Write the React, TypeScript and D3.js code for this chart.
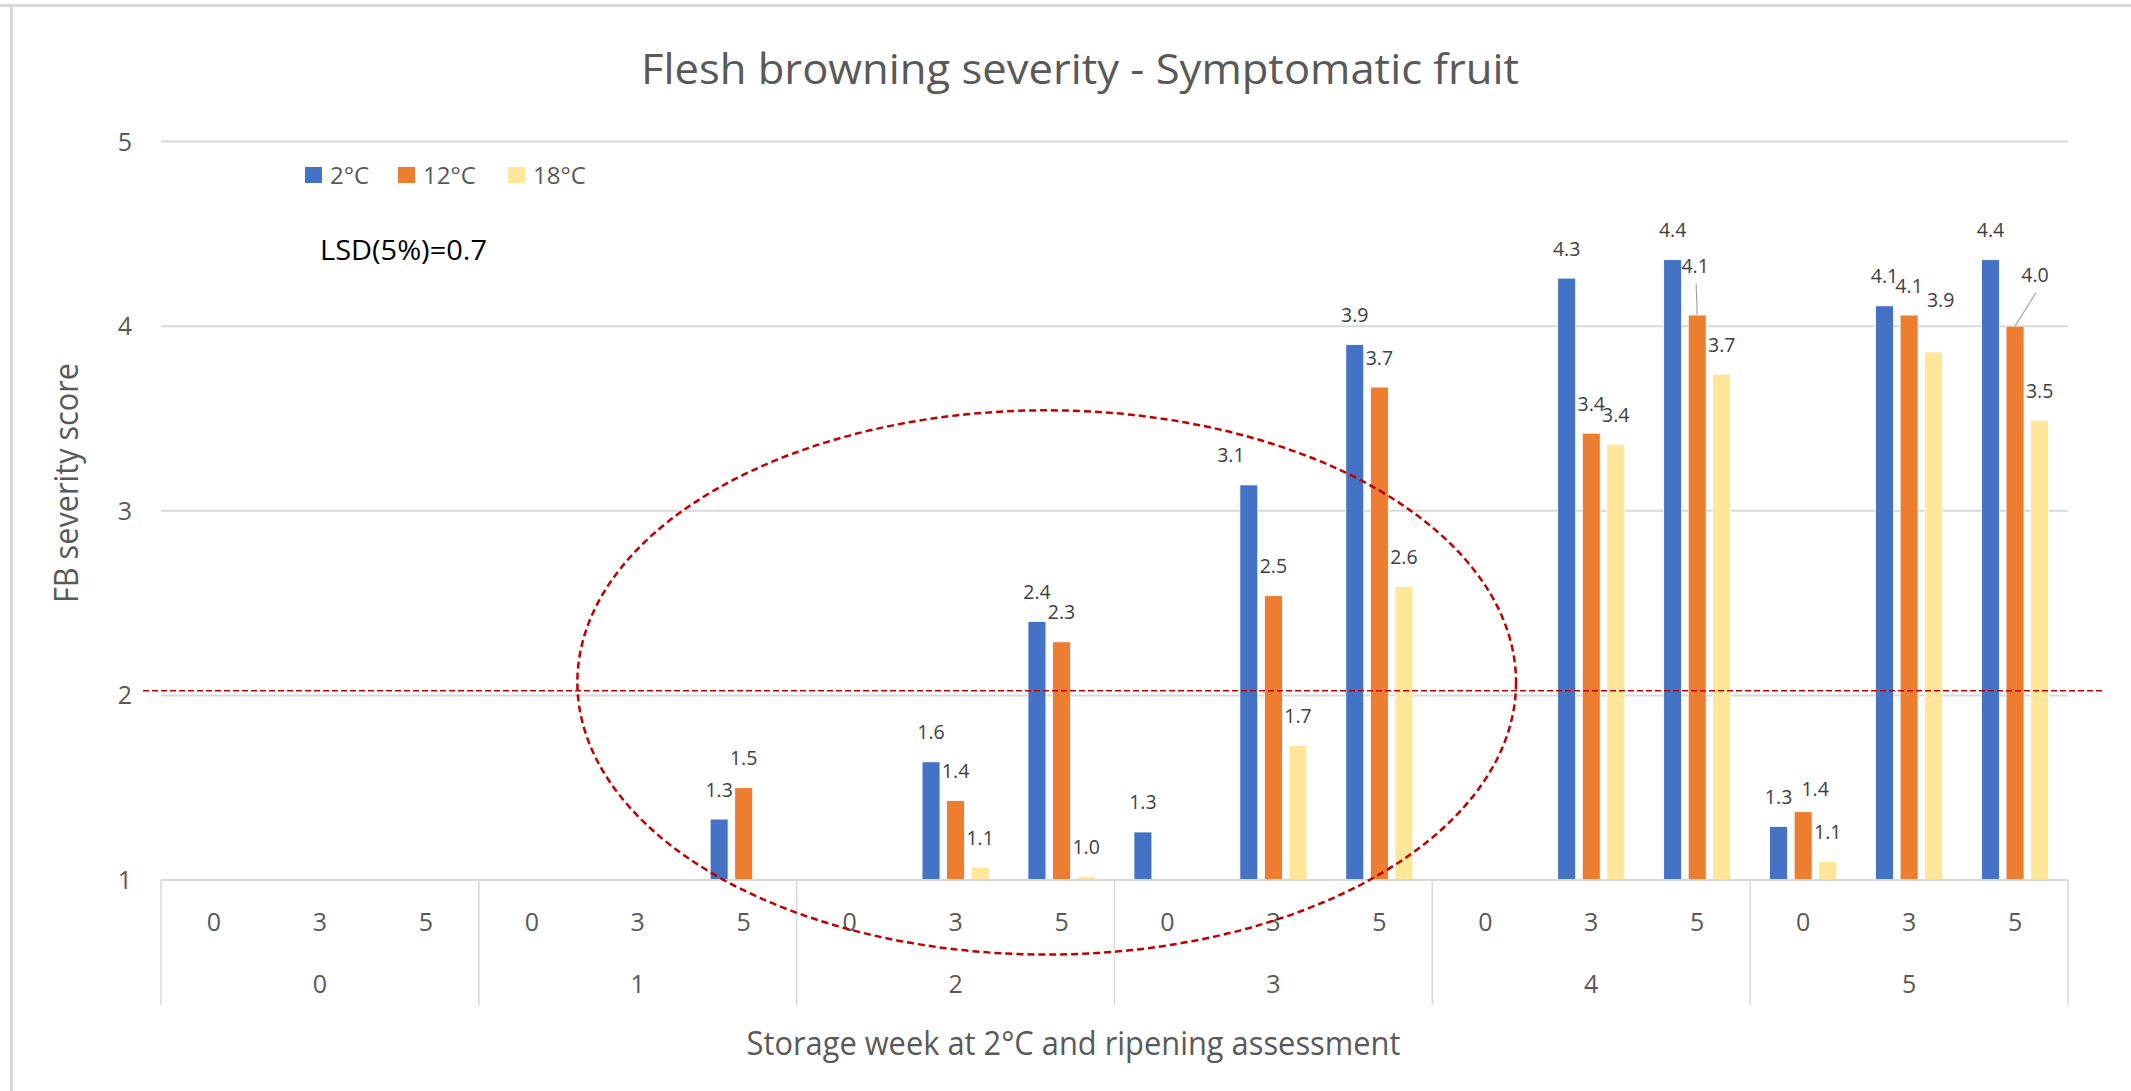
import React from "react";
import * as d3 from "d3";

// ---- data ----
const weeks = [0, 0, 0, 1, 1, 1, 2, 2, 2, 3, 3, 3, 4, 4, 4, 5, 5, 5];
const ripening = [0, 3, 5, 0, 3, 5, 0, 3, 5, 0, 3, 5, 0, 3, 5, 0, 3, 5];
const weekLabels = ["0", "1", "2", "3", "4", "5"];
const seriesNames = ["2°C", "12°C", "18°C"];
const seriesColors = ["#4472C4", "#ED7D31", "#FFE699"];
const values2C: (number | null)[] = [null, null, null, null, null, 1.33, null, 1.64, 2.4, 1.26, 3.14, 3.9, null, 4.26, 4.36, 1.29, 4.11, 4.36];
const values12C: (number | null)[] = [null, null, null, null, null, 1.5, null, 1.43, 2.29, null, 2.54, 3.67, null, 3.42, 4.06, 1.37, 4.06, 4.0];
const values18C: (number | null)[] = [null, null, null, null, null, null, null, 1.07, 1.02, null, 1.73, 2.59, null, 3.36, 3.74, 1.1, 3.86, 3.49];
const yTicks = [1, 2, 3, 4, 5];
// manual data-label nudges (category index, series index, dx, dy, leader)
const labelNudges = [
  { cat: 10, s: 0, dx: -18, dy: 0, leader: false },
  { cat: 14, s: 1, dx: -2, dy: -20, leader: true },
  { cat: 15, s: 1, dx: 12, dy: 7, leader: false },
  { cat: 16, s: 2, dx: 7, dy: -22, leader: false },
  { cat: 17, s: 1, dx: 20, dy: -22, leader: true },
];
const lsdText = "LSD(5%)=0.7";
const lsdThreshold = 2.025;

const W = 2131;
const H = 1091;
const FONT = "'Open Sans', 'Noto Sans', sans-serif";
const GREY = "#595959";
const GRID = "#d9d9d9";

export default function App() {
  const series = [values2C, values12C, values18C];
  const cats = weeks.map((_, i) => i);
  const left = 161;
  const right = 2068;
  const top = 141.5;
  const bottom = 880;

  const xc = d3.scaleBand<number>().domain(cats).range([left, right]).padding(0);
  const groupFrac = 0.633;
  const groupW = xc.bandwidth() * groupFrac;
  const groupOff = (xc.bandwidth() - groupW) / 2;
  const x1 = d3
    .scaleBand<number>()
    .domain([0, 1, 2])
    .range([0, groupW])
    .paddingInner(0.27)
    .paddingOuter(0);
  const y = d3.scaleLinear().domain([1, 5]).range([bottom, top]);

  const barX = (c: number, s: number) => (xc(c) as number) + groupOff + (x1(s) as number);
  const barCX = (c: number, s: number) => barX(c, s) + x1.bandwidth() / 2;

  const nudge = (c: number, s: number) => labelNudges.find((n) => n.cat === c && n.s === s);

  const step = xc.step();
  const weekGroups = weekLabels.map((w, k) => ({
    label: w,
    x0: left + k * 3 * step,
    x1: left + (k + 1) * 3 * step,
  }));

  // ellipse annotation in data space
  const ellCx = left + 8.36 * step;
  const ellRx = 4.43 * step;
  const ellCy = y(2.07);
  const ellRy = y(1) - y(2.474);

  return (
    <svg
      width={W}
      height={H}
      style={{ position: "absolute", left: 0, top: 0, background: "#fff" }}
      fontFamily={FONT}
    >
      <rect x={0} y={0} width={W} height={H} fill="#fff" />
      {/* chart frame */}
      <line x1={0} x2={W} y1={5.5} y2={5.5} stroke={GRID} strokeWidth={3} />
      <line x1={11.5} x2={11.5} y1={5} y2={H} stroke={GRID} strokeWidth={3} />

      {/* title */}
      <text x={1080} y={84} textAnchor="middle" fontSize={42} fill={GREY} textLength={878} lengthAdjust="spacingAndGlyphs">
        Flesh browning severity - Symptomatic fruit
      </text>

      {/* gridlines */}
      {yTicks.slice(1).map((t) => (
        <line key={t} x1={left} x2={right} y1={y(t)} y2={y(t)} stroke={GRID} strokeWidth={2} />
      ))}
      {/* y tick labels */}
      {yTicks.map((t) => (
        <text key={t} x={132} y={y(t)} dy="0.36em" textAnchor="end" fontSize={25} fill={GREY}>
          {t}
        </text>
      ))}

      {/* bars */}
      {series.map((vals, s) =>
        vals.map((v, c) =>
          v == null ? null : (
            <rect
              key={`${s}-${c}`}
              x={barX(c, s)}
              y={y(v)}
              width={x1.bandwidth()}
              height={y(1) - y(v)}
              fill={seriesColors[s]}
              stroke="#fff"
              strokeWidth={0.8}
            />
          )
        )
      )}

      {/* axis line and category dividers */}
      <line x1={left} x2={right} y1={bottom} y2={bottom} stroke={GRID} strokeWidth={2} />
      {weekGroups.map((g, k) => (
        <line key={`d${k}`} x1={g.x0} x2={g.x0} y1={bottom} y2={1005} stroke={GRID} strokeWidth={1.5} />
      ))}
      <line x1={right} x2={right} y1={bottom} y2={1005} stroke={GRID} strokeWidth={1.5} />
      {cats.map((c) => (
        <text key={`r${c}`} x={(xc(c) as number) + step / 2} y={922} dy="0.36em" textAnchor="middle" fontSize={25} fill={GREY}>
          {ripening[c]}
        </text>
      ))}
      {weekGroups.map((g, k) => (
        <text key={`w${k}`} x={(g.x0 + g.x1) / 2} y={984} dy="0.36em" textAnchor="middle" fontSize={25} fill={GREY}>
          {g.label}
        </text>
      ))}

      {/* data labels */}
      {series.map((vals, s) =>
        vals.map((v, c) => {
          if (v == null) return null;
          const n = nudge(c, s);
          const bx = barCX(c, s);
          const by = y(v);
          const lx = bx + (n ? n.dx : 0);
          const lcy = by - 29.5 + (n ? n.dy : 0);
          return (
            <g key={`l${s}-${c}`}>
              {n && n.leader ? (
                <line x1={lx + 1} y1={lcy + 18} x2={bx} y2={by} stroke="#a6a6a6" strokeWidth={1.2} />
              ) : null}
              <text x={lx} y={lcy + 7} textAnchor="middle" fontSize={19.5} fill="#404040">
                {v.toFixed(1)}
              </text>
            </g>
          );
        })
      )}

      {/* legend */}
      {seriesNames.map((name, s) => {
        const lx = 305 + [0, 93, 203][s];
        return (
          <g key={name}>
            <rect x={lx} y={167} width={17} height={16} fill={seriesColors[s]} />
            <text x={lx + 25} y={183.5} fontSize={24} fill={GREY}>
              {name}
            </text>
          </g>
        );
      })}

      {/* LSD note */}
      <text x={320} y={260} fontSize={28} fill="#000" textLength={167} lengthAdjust="spacingAndGlyphs">
        {lsdText}
      </text>

      {/* axis titles */}
      <text
        transform={`translate(78,483) rotate(-90)`}
        textAnchor="middle"
        fontSize={32}
        fill={GREY}
        textLength={240}
        lengthAdjust="spacingAndGlyphs"
      >
        FB severity score
      </text>
      <text x={1073.5} y={1055} textAnchor="middle" fontSize={32} fill={GREY} textLength={654} lengthAdjust="spacingAndGlyphs">
        Storage week at 2°C and ripening assessment
      </text>

      {/* annotations */}
      <line
        x1={143}
        x2={2104}
        y1={y(lsdThreshold)}
        y2={y(lsdThreshold)}
        stroke="#C00000"
        strokeWidth={1.5}
        strokeDasharray="6 3"
      />
      <ellipse
        cx={ellCx}
        cy={ellCy}
        rx={ellRx}
        ry={ellRy}
        fill="none"
        stroke="#C00000"
        strokeWidth={2.5}
        strokeDasharray="7 4"
      />
    </svg>
  );
}
